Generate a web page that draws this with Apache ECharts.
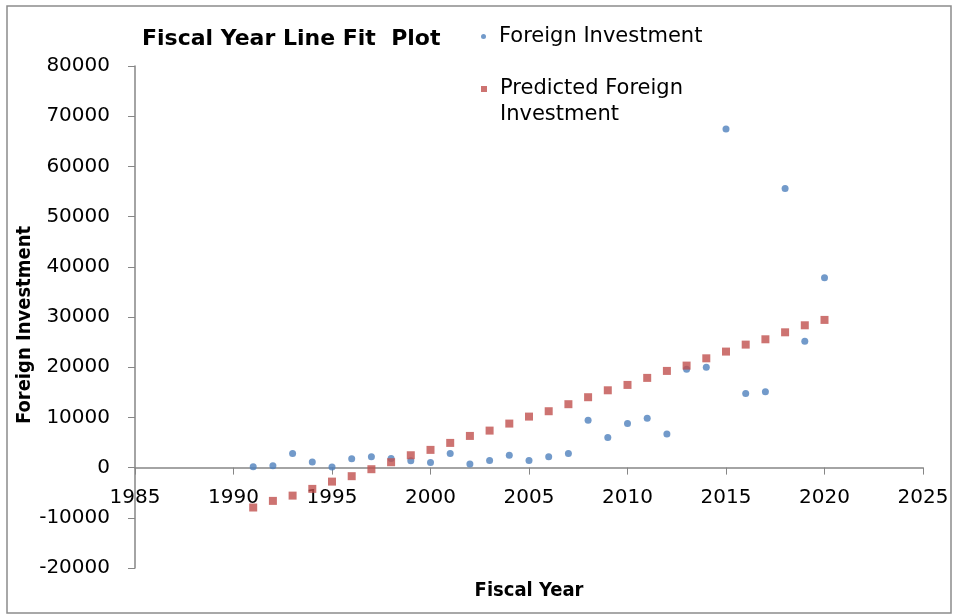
<!DOCTYPE html>
<html>
<head>
<meta charset="utf-8">
<script src="https://cdn.jsdelivr.net/npm/echarts@6/dist/echarts.min.js"></script>
<style>
  html, body { margin: 0; padding: 0; background: #fff; }
  #chart { width: 956px; height: 616px; }
</style>
</head>
<body>
<div id="chart"></div>
<script>
// fiscal years
const years = [
  1991, 1992, 1993, 1994, 1995, 1996, 1997, 1998, 1999, 2000,
  2001, 2002, 2003, 2004, 2005, 2006, 2007, 2008, 2009, 2010,
  2011, 2012, 2013, 2014, 2015, 2016, 2017, 2018, 2019, 2020,
];
// observed foreign investment
const foreignInvestment = [
  150, 350, 2800, 1100, 100, 1750, 2150, 1800, 1350, 1000,
  2800, 700, 1400, 2450, 1400, 2150, 2800, 9450, 5980, 8760,
  9820, 6710, 19600, 20000, 67450, 14750, 15100, 55600, 25150, 37800,
];
// predicted values from the line fit
const predicted = [
  -7950, -6630, -5580, -4240, -2790, -1710, -320, 1070, 2460, 3530,
  4920, 6310, 7370, 8770, 10160, 11230, 12630, 14020, 15400, 16470,
  17870, 19260, 20320, 21770, 23110, 24500, 25560, 26950, 28350, 29420,
];

const pairs = (xs, ys) => xs.map((x, i) => [x, ys[i]]);

const axisColor = "#868686";
const plainFont = "DejaVu Sans";
const boldFont = "DejaVu Sans Condensed";

const yMin = -20000;
const yMax = 80000;
const gridTop = 66;
const gridBottom = 48;
const gridHeight = 616 - gridTop - gridBottom;
// x axis sits on y = 0 (labels move with it)
const xAxisOffset = -gridHeight * (0 - yMin) / (yMax - yMin);

const chart = echarts.init(document.getElementById("chart"), null, {
  renderer: "canvas",
});

const option = {
  backgroundColor: "#fff",
  animation: false,
  title: {
    text: "Fiscal Year Line Fit  Plot",
    left: 137,
    top: 23,
    textStyle: {
      fontFamily: plainFont,
      fontWeight: "bold",
      fontSize: 22,
      color: "#000",
    },
  },
  legend: [
    {
      data: ["Foreign Investment"],
      left: 476,
      top: 21,
      icon: "circle",
      itemWidth: 5,
      itemHeight: 5,
      textStyle: {
        fontFamily: plainFont,
        fontSize: 21,
        color: "#000",
        padding: [0, 0, 0, 8],
      },
    },
    {
      data: ["Predicted Foreign Investment"],
      left: 476,
      top: 45,
      icon: "rect",
      itemWidth: 6,
      itemHeight: 6,
      formatter: () => "\nPredicted Foreign\nInvestment",
      textStyle: {
        fontFamily: plainFont,
        fontSize: 21,
        lineHeight: 26,
        color: "#000",
        padding: [0, 0, 0, 8],
      },
    },
  ],
  grid: {
    left: 135,
    right: 33,
    top: gridTop,
    bottom: gridBottom,
    outerBoundsMode: "none",
  },
  xAxis: {
    type: "value",
    min: 1985,
    max: 2025,
    interval: 5,
    offset: xAxisOffset,
    name: "Fiscal Year",
    nameLocation: "middle",
    nameGap: 113,
    nameTextStyle: {
      fontFamily: boldFont,
      fontWeight: "bold",
      fontSize: 20,
      color: "#000",
    },
    axisLine: { onZero: false, lineStyle: { color: axisColor, width: 1.5 } },
    axisTick: { show: true, length: 7, lineStyle: { color: axisColor } },
    axisLabel: {
      margin: 20,
      fontFamily: plainFont,
      fontSize: 20,
      color: "#000",
      formatter: (v) => String(v),
    },
    splitLine: { show: false },
  },
  yAxis: {
    type: "value",
    min: yMin,
    max: yMax,
    interval: 10000,
    name: "Foreign Investment",
    nameLocation: "middle",
    nameRotate: 90,
    nameGap: 100,
    nameMoveOverlap: false,
    nameTextStyle: {
      fontFamily: boldFont,
      fontWeight: "bold",
      fontSize: 20,
      color: "#000",
      padding: [0, 16, 0, 0],
    },
    axisLine: { show: true, lineStyle: { color: axisColor, width: 1.5 } },
    axisTick: { show: true, length: 7, lineStyle: { color: axisColor } },
    axisLabel: {
      margin: 25,
      fontFamily: plainFont,
      fontSize: 20,
      color: "#000",
      formatter: (v) => String(v),
    },
    splitLine: { show: false },
  },
  series: [
    {
      name: "Foreign Investment",
      type: "scatter",
      symbol: "circle",
      symbolSize: 7,
      itemStyle: { color: "#4F81BD" },
      data: pairs(years, foreignInvestment),
    },
    {
      name: "Predicted Foreign Investment",
      type: "scatter",
      symbol: "rect",
      symbolSize: 8,
      itemStyle: { color: "#C0504D" },
      data: pairs(years, predicted),
    },
  ],
  graphic: [
    {
      type: "rect",
      shape: { x: 7, y: 6, width: 944, height: 607 },
      style: { fill: null, stroke: "#8c8c8c", lineWidth: 1.5 },
      silent: true,
    },
  ],
};

chart.setOption(option);
</script>
</body>
</html>
